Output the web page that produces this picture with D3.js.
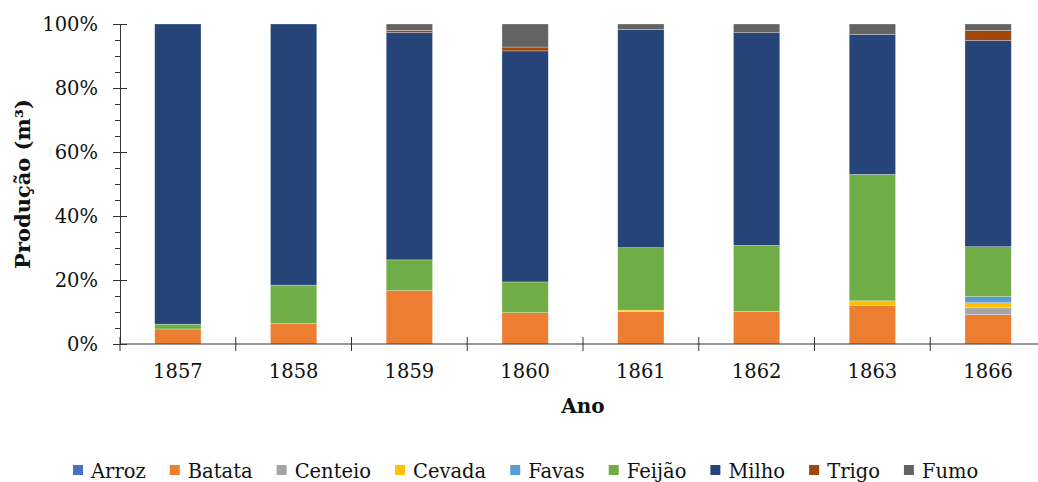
<!DOCTYPE html>
<html>
<head>
<meta charset="utf-8">
<script src="https://cdn.jsdelivr.net/npm/d3@7"></script>
<style>
    body { margin: 0; background: #fff; }
    svg { display: block; font-family: "DejaVu Serif", serif; }
</style>
</head>
<body>
<svg id="chart" width="1038" height="482"></svg>
<script>
// data (percent of each year's production)
const years = ["1857", "1858", "1859", "1860", "1861", "1862", "1863", "1866"];
const crops = ["Arroz", "Batata", "Centeio", "Cevada", "Favas", "Feijão", "Milho", "Trigo", "Fumo"];
const arroz = [0, 0, 0, 0, 0, 0, 0, 0];
const batata = [4.7, 6.5, 16.7, 9.8, 10.1, 10.2, 12.1, 9.2];
const centeio = [0, 0, 0, 0, 0, 0, 0, 2.1];
const cevada = [0, 0, 0, 0, 0.5, 0, 1.4, 1.6];
const favas = [0, 0, 0, 0, 0, 0, 0, 1.9];
const feijao = [1.5, 11.9, 9.6, 9.6, 19.5, 20.6, 39.5, 15.6];
const milho = [93.8, 81.6, 71.1, 72.2, 68.2, 66.5, 43.7, 64.5];
const trigo = [0, 0, 0.6, 1.2, 0, 0, 0, 3.1];
const fumo = [0, 0, 2.0, 7.2, 1.7, 2.7, 3.3, 2.0];
const colors = ["#4472C4", "#ED7D31", "#A5A5A5", "#FFC000", "#5B9BD5", "#70AD47", "#264478", "#9E480E", "#636363"];
const yTicks = [0, 0.2, 0.4, 0.6, 0.8, 1];

// build rows for the stack
const series = [arroz, batata, centeio, cevada, favas, feijao, milho, trigo, fumo];
const rows = years.map((year, i) => {
    const row = { year: year };
    crops.forEach((c, k) => (row[c] = series[k][i]));
    return row;
});

const svg = d3.select("#chart");
const plotLeft = 120, plotRight = 1046, plotTop = 24, plotBottom = 344;

const x = d3.scaleBand().domain(years).range([plotLeft, plotRight]).padding(0);
const y = d3.scaleLinear().domain([0, 1]).range([plotBottom, plotTop]);
const color = d3.scaleOrdinal().domain(crops).range(colors);

const stacked = d3.stack().keys(crops).offset(d3.stackOffsetExpand)(rows);

// bars
const barW = x.bandwidth() * 0.4;
svg.append("g")
    .selectAll("g")
    .data(stacked)
    .enter()
    .append("g")
    .attr("fill", (d) => color(d.key))
    .selectAll("rect")
    .data((d) => d)
    .enter()
    .append("rect")
    .attr("x", (d) => x(d.data.year) + (x.bandwidth() - barW) / 2)
    .attr("y", (d) => y(d[1]))
    .attr("width", barW)
    .attr("height", (d) => y(d[0]) - y(d[1]))
    .attr("stroke", "#fff")
    .attr("stroke-opacity", 0.45)
    .attr("stroke-width", 0.6);

// minor y ticks
svg.append("g")
    .attr("transform", "translate(" + plotLeft + ",0)")
    .call(d3.axisLeft(y).tickValues(d3.range(0, 1.0001, 0.05)).tickSize(5).tickFormat(""))
    .call((g) => g.select(".domain").remove())
    .call((g) => g.selectAll("line").attr("stroke", "#333"));

// major y ticks (crossing the axis)
const yAxis = svg.append("g")
    .attr("transform", "translate(" + plotLeft + ",0)")
    .call(d3.axisLeft(y).tickValues(yTicks).tickSizeInner(7).tickSizeOuter(0).tickPadding(15).tickFormat(d3.format(".0%")));
yAxis.selectAll(".tick line").attr("x2", 7).attr("x1", -7).attr("stroke", "#333");
yAxis.select(".domain").attr("stroke", "#333");
yAxis.selectAll("text")
    .style("font-family", "DejaVu Serif")
    .style("font-size", "19.5px")
    .attr("fill", "#111");

// x axis with labels at centers, ticks at band edges
const xAxis = svg.append("g")
    .attr("transform", "translate(0," + plotBottom + ")")
    .call(d3.axisBottom(x).tickSize(0).tickSizeOuter(0).tickPadding(20));
xAxis.select(".domain").attr("stroke", "#333").attr("d", "M" + plotLeft + ",0H" + plotRight);
xAxis.selectAll("text")
    .style("font-family", "DejaVu Serif")
    .style("font-size", "19.5px")
    .attr("fill", "#111");
xAxis.selectAll(".edge")
    .data(years.map((d) => x(d)).concat([x.range()[1]]))
    .enter()
    .append("line")
    .attr("class", "edge")
    .attr("x1", (d) => d)
    .attr("x2", (d) => d)
    .attr("y1", -7)
    .attr("y2", 7)
    .attr("stroke", "#333");

// axis titles
svg.append("text")
    .attr("x", (plotLeft + plotRight) / 2)
    .attr("y", 413)
    .attr("text-anchor", "middle")
    .style("font-weight", "bold")
    .style("font-size", "20px")
    .attr("fill", "#111")
    .text("Ano");

svg.append("text")
    .attr("text-anchor", "middle")
    .attr("transform", "translate(30," + (plotTop + plotBottom) / 2 + ")rotate(-90)")
    .style("font-weight", "bold")
    .style("font-size", "21px")
    .attr("fill", "#111")
    .text("Produção (m³)");

// legend
const legend = svg.append("g").attr("transform", "translate(73,0)");
let lx = 0;
crops.forEach((c) => {
    const item = legend.append("g").attr("transform", "translate(" + lx + ",0)");
    item.append("rect")
        .attr("x", 0)
        .attr("y", 465)
        .attr("width", 10)
        .attr("height", 10)
        .attr("fill", color(c));
    const t = item.append("text")
        .attr("x", 18)
        .attr("y", 478)
        .style("font-size", "19.5px")
        .attr("fill", "#111")
        .text(c);
    lx += 18 + t.node().getComputedTextLength() + 24;
});
</script>
</body>
</html>
